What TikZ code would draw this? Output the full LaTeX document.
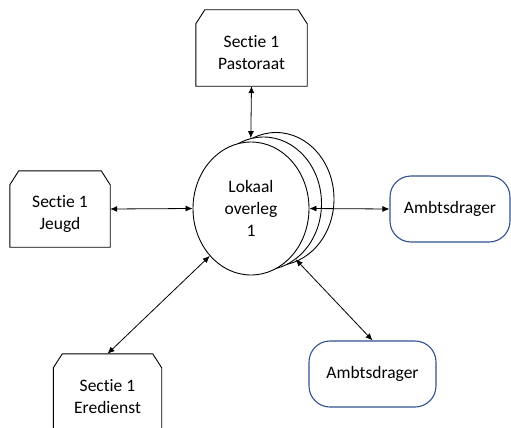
\documentclass[tikz,border=0pt]{standalone}
\usepackage{fontspec}
\setmainfont{Carlito}[Ligatures=NoCommon]
\usetikzlibrary{arrows.meta,shapes.geometric}
\definecolor{ambtblue}{RGB}{47,82,143}
\tikzset{
  txt/.style={align=center,font=\fontsize{17.5}{22}\selectfont,inner sep=0pt},
  sectie/.style={txt,rectangle,minimum height=76pt},
  overleg/.style={txt,ellipse,draw,fill=white,line width=0.9pt,minimum width=116pt,minimum height=133pt},
  ambt/.style={txt,rectangle,rounded corners=21pt,draw=ambtblue,line width=1.1pt,minimum height=66pt},
  >={Latex[length=7pt,width=6pt]}
}
\begin{document}
\begin{tikzpicture}[x=1pt,y=-1pt]
    \useasboundingbox (0,0) rectangle (511,428);

    % text sits a little below the middle of each box
    \node[sectie,minimum width=111pt] (P) at (251.5,52.5) {Sectie 1\\Pastoraat};
    \node[sectie,minimum width=100pt] (J) at (60,213.5) {Sectie 1\\Jeugd};
    \node[sectie,minimum width=108pt] (E) at (107.5,396.5) {Sectie 1\\Eredienst};

    \node[overleg] (L3) at (276,199) {};
    \node[overleg] (L2) at (263.5,203.5) {};
    \node[overleg] (L) at (251,208.5) {Lokaal\\overleg\\1};

    \node[ambt,minimum width=120pt] (R) at (450,209) {Ambtsdrager};
    \node[ambt,minimum width=127pt] (B) at (372.5,374) {Ambtsdrager};

    \foreach \n in {P,J,E}
        \draw[line width=0.9pt] ([yshift=-9.5pt]\n.north west) -- ([xshift=9pt,yshift=4.5pt]\n.north west)
            -- ([xshift=-9pt,yshift=4.5pt]\n.north east) -- ([yshift=-9.5pt]\n.north east)
            -- ([yshift=4.5pt]\n.south east) -- ([yshift=4.5pt]\n.south west) -- cycle;

    \path [<->,line width=0.8pt] ([yshift=4.5pt]P.south) edge node {} (L2.101);
    \path [<->,line width=0.8pt] ([yshift=4.5pt]J.east) edge node {} (L.west);
    \path [<->,line width=0.8pt] (L.east) edge node {} (R.west);
    \path [<->,line width=0.8pt] ([yshift=4.5pt]E.north) edge node {} (L.229);
    \path [<->,line width=0.8pt] (B.north) edge node {} (L2.300);
\end{tikzpicture}
\end{document}
